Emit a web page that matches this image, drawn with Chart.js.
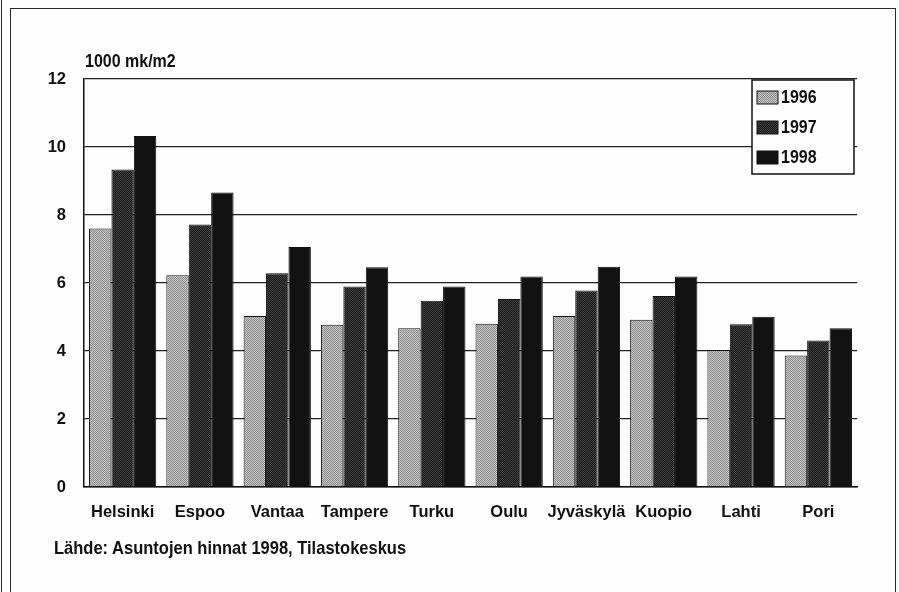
<!DOCTYPE html>
<html>
<head>
<meta charset="utf-8">
<script src="https://cdn.jsdelivr.net/npm/chart.js@4.4.1/dist/chart.umd.min.js"></script>
<style>
  html, body { margin: 0; padding: 0; background: #fdfdfd; }
  #wrap { position: relative; width: 899px; height: 592px; overflow: hidden; }
  canvas { position: absolute; left: 0; top: 0; }
  .frame { position: absolute; left: 10px; top: 8px; width: 884px; height: 620px; border: 1.5px solid #2a2a2a; }
  .outer { position: absolute; left: 1px; top: 0; width: 0; height: 592px; border-left: 1.5px solid #2a2a2a; }
  .txt { position: absolute; font-family: 'Liberation Sans', Arial, sans-serif; font-weight: bold; color: #111; white-space: nowrap;
         transform: scaleY(1.15); transform-origin: left center; }
  #ytitle { left: 85px; top: 52px; font-size: 16px; }
  #source { left: 54px; top: 538px; font-size: 16.5px; }
</style>
</head>
<body>
<div id="wrap">
  <div class="outer"></div>
  <div class="frame"></div>
  <canvas id="chart" width="899" height="592"></canvas>
  <div class="txt" id="ytitle">1000 mk/m2</div>
  <div class="txt" id="source">Lähde: Asuntojen hinnat 1998, Tilastokeskus</div>
</div>
<script>
const cities = ["Helsinki","Espoo","Vantaa","Tampere","Turku","Oulu","Jyväskylä","Kuopio","Lahti","Pori"];
const years = ["1996","1997","1998"];
const prices1996 = [7.60, 6.23, 5.03, 4.77, 4.67, 4.80, 5.03, 4.92, 4.03, 3.87];
const prices1997 = [9.34, 7.72, 6.29, 5.90, 5.48, 5.53, 5.78, 5.62, 4.79, 4.31];
const prices1998 = [10.32, 8.66, 7.06, 6.46, 5.90, 6.19, 6.48, 6.19, 5.01, 4.67];
const yMin = 0, yMax = 12, yStep = 2;

const FONT = "'Liberation Sans', Arial, sans-serif";

// fine stipple fills like the printed original
function stipple(base, dot) {
  const c = document.createElement("canvas");
  c.width = 2; c.height = 2;
  const g = c.getContext("2d");
  g.fillStyle = base; g.fillRect(0, 0, 2, 2);
  g.fillStyle = dot;
  g.fillRect(0, 0, 1, 1); g.fillRect(1, 1, 1, 1);
  return g.createPattern(c, "repeat");
}
const fills = [stipple("#bdbdbd", "#959595"), stipple("#1f1f1f", "#3a3a3a"), "#121212"];
const series = [prices1996, prices1997, prices1998];

// legend box drawn inside the plot, top right
const boxLegend = {
  id: "boxLegend",
  afterDraw(chart) {
    const ctx = chart.ctx, a = chart.chartArea;
    const w = 102, h = 94, x = a.right - w - 3, y = a.top + 1;
    ctx.save();
    ctx.fillStyle = "#fdfdfd";
    ctx.fillRect(x, y, w, h);
    ctx.lineWidth = 1.5;
    ctx.strokeStyle = "#111";
    ctx.strokeRect(x, y, w, h);
    ctx.font = "bold 16px " + FONT;
    ctx.textBaseline = "middle";
    chart.data.datasets.forEach((ds, i) => {
      const cy = y + 17 + i * 30;
      ctx.fillStyle = ds.backgroundColor;
      ctx.fillRect(x + 5, cy - 6, 21, 13);
      ctx.lineWidth = 1;
      ctx.strokeRect(x + 5, cy - 6, 21, 13);
      ctx.fillStyle = "#111";
      ctx.save();
      ctx.translate(x + 29, cy + 1);
      ctx.scale(1, 1.2);
      ctx.fillText(ds.label, 0, 0);
      ctx.restore();
    });
    ctx.restore();
  }
};

new Chart(document.getElementById("chart").getContext("2d"), {
  type: "bar",
  data: {
    labels: cities,
    datasets: years.map((y, i) => ({
      label: y,
      data: series[i],
      backgroundColor: fills[i],
      borderColor: "#111",
      borderWidth: 1,
      categoryPercentage: 0.87,
      barPercentage: 1.0
    }))
  },
  options: {
    responsive: false,
    animation: false,
    layout: { padding: { left: 20, top: 79, right: 42, bottom: 60 } },
    plugins: {
      legend: { display: false },
      tooltip: { enabled: false }
    },
    scales: {
      x: {
        grid: { display: false, drawTicks: false },
        border: { display: true, color: "#111", width: 1.5 },
        ticks: { color: "#111", padding: 16, autoSkip: false, maxRotation: 0, font: { family: FONT, size: 16.5, weight: "bold" } },
        afterFit: s => { s.height = 45; }
      },
      y: {
        min: yMin,
        max: yMax,
        ticks: { stepSize: yStep, color: "#111", padding: 18, font: { family: FONT, size: 16.5, weight: "bold" } },
        grid: { color: "#222", lineWidth: 1.3, drawTicks: false },
        border: { display: true, color: "#111", width: 1.5 },
        afterFit: s => { s.width = 64; }
      }
    }
  },
  plugins: [boxLegend]
});
</script>
</body>
</html>
